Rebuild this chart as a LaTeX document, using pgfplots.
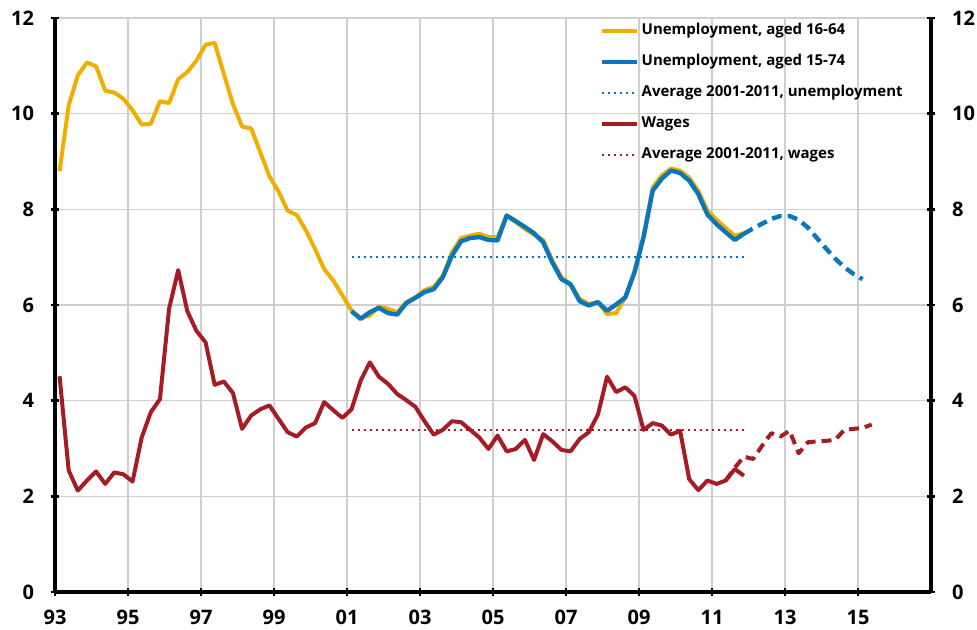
\documentclass[border=0pt]{standalone}
\usepackage{fontspec}
\setmainfont{Open Sans}
\usepackage{pgfplots}
\pgfplotsset{compat=1.18}
\usetikzlibrary{calc}

\definecolor{unempy}{HTML}{F2AE00}
\definecolor{unempb}{HTML}{0A77BA}
\definecolor{wage}{HTML}{A61C24}
\definecolor{gridgray}{HTML}{CFCFCF}

\begin{document}
\begin{tikzpicture}
\begin{axis}[
    name=ax,
    scale only axis,
    width=438pt, height=287pt,
    xmin=1993, xmax=2017,
    ymin=0, ymax=12,
    axis x line*=bottom,
    axis y line*=box,
    axis line style={black, line width=2pt},
    xtick={1993,1995,...,2015},
    xticklabels={93,95,97,99,01,03,05,07,09,11,13,15},
    ytick={0,2,...,12},
    tick align=center,
    major tick length=4pt,
    tick style={black, line width=1.3pt},
    grid=major,
    grid style={gridgray, line width=0.8pt},
    /pgf/number format/assume math mode=true,
    tick label style={font=\bfseries\fontsize{10}{12}\selectfont},
    xticklabel style={yshift=-3.5pt},
    yticklabel style={xshift=-5pt},
    legend cell align=left,
    legend image code/.code={\draw[#1] (0pt,0pt) -- (17.5pt,0pt);},
    legend style={at={(0.622,0.9955)}, anchor=north west, draw=none, fill=none,
        inner sep=0pt, row sep=5.5pt, column sep=0pt,
        font=\bfseries\fontsize{7.5}{9}\selectfont,
        nodes={inner sep=1pt, text height=6pt, text depth=2pt}},
    every axis plot/.append style={line join=round},
]
% Unemployment, aged 16-64
\addplot[unempy, line width=2pt] coordinates {
(1993.125,8.80) (1993.375,10.17) (1993.625,10.80) (1993.875,11.07)
(1994.125,10.99) (1994.375,10.48) (1994.625,10.44) (1994.875,10.31)
(1995.125,10.07) (1995.375,9.77) (1995.625,9.79) (1995.875,10.26)
(1996.125,10.22) (1996.375,10.72) (1996.625,10.87) (1996.875,11.11)
(1997.125,11.44) (1997.375,11.48) (1997.625,10.83) (1997.875,10.20)
(1998.125,9.73) (1998.375,9.69) (1998.625,9.19) (1998.875,8.69)
(1999.125,8.37) (1999.375,7.97) (1999.625,7.88) (1999.875,7.56)
(2000.125,7.17) (2000.375,6.75) (2000.625,6.51) (2000.875,6.20)
(2001.125,5.88) (2001.375,5.73) (2001.625,5.78) (2001.875,5.97)
(2002.125,5.92) (2002.375,5.85) (2002.625,6.06) (2002.875,6.16)
(2003.125,6.31) (2003.375,6.38) (2003.625,6.61) (2003.875,7.10)
(2004.125,7.40) (2004.375,7.45) (2004.625,7.49) (2004.875,7.42)
(2005.125,7.42) (2005.375,7.87) (2005.625,7.73) (2005.875,7.59)
(2006.125,7.47) (2006.375,7.36) (2006.625,6.93) (2006.875,6.58)
(2007.125,6.44) (2007.375,6.13) (2007.625,6.02) (2007.875,6.06)
(2008.125,5.81) (2008.375,5.83) (2008.625,6.16) (2008.875,6.68)
(2009.125,7.42) (2009.375,8.46) (2009.625,8.71) (2009.875,8.85)
(2010.125,8.81) (2010.375,8.66) (2010.625,8.39) (2010.875,7.97)
(2011.125,7.78) (2011.375,7.61) (2011.625,7.45) (2011.875,7.50)
};
\addlegendentry{Unemployment, aged 16-64}
% Unemployment, aged 15-74
\addplot[unempb, line width=2.2pt] coordinates {
(2001.125,5.87) (2001.375,5.71) (2001.625,5.85) (2001.875,5.94)
(2002.125,5.83) (2002.375,5.80) (2002.625,6.04) (2002.875,6.15)
(2003.125,6.27) (2003.375,6.33) (2003.625,6.58) (2003.875,7.03)
(2004.125,7.33) (2004.375,7.40) (2004.625,7.42) (2004.875,7.36)
(2005.125,7.35) (2005.375,7.87) (2005.625,7.75) (2005.875,7.63)
(2006.125,7.50) (2006.375,7.31) (2006.625,6.89) (2006.875,6.54)
(2007.125,6.43) (2007.375,6.08) (2007.625,5.99) (2007.875,6.06)
(2008.125,5.88) (2008.375,6.01) (2008.625,6.16) (2008.875,6.68)
(2009.125,7.42) (2009.375,8.39) (2009.625,8.64) (2009.875,8.81)
(2010.125,8.76) (2010.375,8.60) (2010.625,8.32) (2010.875,7.89)
(2011.125,7.69) (2011.375,7.52) (2011.625,7.36) (2011.875,7.49)
};
\addlegendentry{Unemployment, aged 15-74}
\addplot[unempb, line width=1.3pt, dash pattern=on 1pt off 2pt] coordinates {
(2001.125,7.0) (2011.875,7.0)
};
\addlegendentry{Average 2001-2011, unemployment}
% Wages
\addplot[wage, line width=2pt] coordinates {
(1993.125,4.51) (1993.375,2.54) (1993.625,2.12) (1993.875,2.33)
(1994.125,2.52) (1994.375,2.26) (1994.625,2.50) (1994.875,2.46)
(1995.125,2.31) (1995.375,3.23) (1995.625,3.76) (1995.875,4.03)
(1996.125,5.92) (1996.375,6.73) (1996.625,5.87) (1996.875,5.46)
(1997.125,5.22) (1997.375,4.33) (1997.625,4.40) (1997.875,4.16)
(1998.125,3.41) (1998.375,3.69) (1998.625,3.82) (1998.875,3.90)
(1999.125,3.62) (1999.375,3.34) (1999.625,3.25) (1999.875,3.44)
(2000.125,3.53) (2000.375,3.97) (2000.625,3.80) (2000.875,3.64)
(2001.125,3.82) (2001.375,4.42) (2001.625,4.80) (2001.875,4.50)
(2002.125,4.35) (2002.375,4.14) (2002.625,4.01) (2002.875,3.87)
(2003.125,3.57) (2003.375,3.29) (2003.625,3.39) (2003.875,3.57)
(2004.125,3.55) (2004.375,3.39) (2004.625,3.23) (2004.875,2.99)
(2005.125,3.27) (2005.375,2.94) (2005.625,2.99) (2005.875,3.18)
(2006.125,2.76) (2006.375,3.30) (2006.625,3.15) (2006.875,2.97)
(2007.125,2.94) (2007.375,3.20) (2007.625,3.34) (2007.875,3.71)
(2008.125,4.50) (2008.375,4.18) (2008.625,4.28) (2008.875,4.10)
(2009.125,3.39) (2009.375,3.53) (2009.625,3.48) (2009.875,3.29)
(2010.125,3.37) (2010.375,2.36) (2010.625,2.13) (2010.875,2.33)
(2011.125,2.26) (2011.375,2.33) (2011.625,2.57) (2011.875,2.43)
};
\addlegendentry{Wages}
\addplot[wage, line width=1.3pt, dash pattern=on 1pt off 2pt] coordinates {
(2001.125,3.39) (2011.875,3.39)
};
\addlegendentry{Average 2001-2011, wages}
% forecasts
\addplot[unempb, line width=2.2pt, dash pattern=on 5pt off 3pt, forget plot] coordinates {
(2011.875,7.49) (2012.125,7.60) (2012.375,7.70) (2012.625,7.80)
(2012.875,7.86) (2013.125,7.86) (2013.375,7.78) (2013.625,7.62)
(2013.875,7.40) (2014.125,7.18) (2014.375,6.97) (2014.625,6.79)
(2014.875,6.65) (2015.125,6.54)
};
\addplot[wage, line width=2pt, dash pattern=on 5pt off 3pt, forget plot] coordinates {
(2011.375,2.33) (2011.625,2.60) (2011.875,2.83) (2012.125,2.78)
(2012.375,3.06) (2012.625,3.32) (2012.875,3.25) (2013.125,3.37)
(2013.375,2.90) (2013.625,3.13) (2013.875,3.15) (2014.125,3.16)
(2014.375,3.18) (2014.625,3.39) (2014.875,3.41) (2015.125,3.43)
(2015.375,3.50)
};
\end{axis}
% right-hand scale
\begin{axis}[
    scale only axis,
    width=438pt, height=287pt,
    xmin=1993, xmax=2017,
    ymin=0, ymax=12,
    hide x axis,
    axis y line*=right,
    axis line style={black, line width=2pt},
    ytick={0,2,...,12},
    tick align=center,
    major tick length=4pt,
    tick style={black, line width=1.3pt},
    /pgf/number format/assume math mode=true,
    tick label style={font=\bfseries\fontsize{10}{12}\selectfont},
    yticklabel style={xshift=5pt},
]
\end{axis}
\pgfresetboundingbox
\path ($(ax.south west)+(-27.5pt,-18.6pt)$) rectangle ($(ax.north east)+(23pt,9pt)$);
\end{tikzpicture}
\end{document}
